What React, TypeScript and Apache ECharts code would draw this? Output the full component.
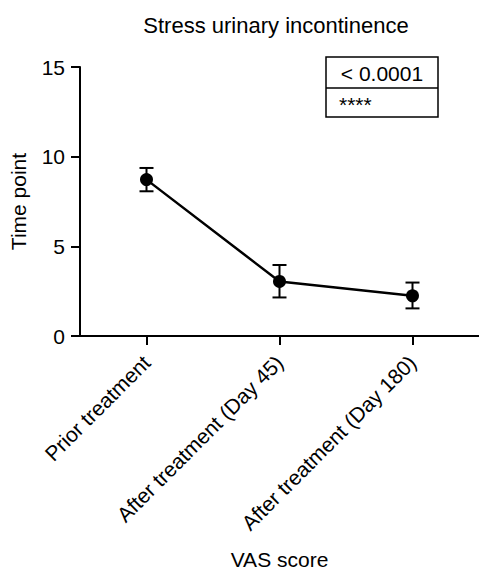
import React, { useEffect, useRef } from "react";
import * as echarts from "echarts";

const categories = ["Prior treatment", "After treatment (Day 45)", "After treatment (Day 180)"];
const meanValues = [8.72, 3.04, 2.24];
const lowerValues = [8.07, 2.15, 1.54];
const upperValues = [9.37, 3.96, 2.98];
const yTicks = [0, 5, 10, 15];
const pValueText = "< 0.0001";
const starsText = "****";

const FONT = "Liberation Sans, Arial, sans-serif";

export default function App() {
  const ref = useRef<HTMLDivElement>(null);
  useEffect(() => {
    if (!ref.current) return;
    const chart = echarts.init(ref.current, undefined, { renderer: "svg" });
    const errData = categories.map((_, i) => [i, lowerValues[i], upperValues[i]]);
    chart.setOption({
      animation: false,
      backgroundColor: "#ffffff",
      textStyle: { fontFamily: FONT },
      title: {
        text: "Stress urinary incontinence",
        left: 271,
        textAlign: "center",
        top: 9,
        textStyle: { fontFamily: FONT, fontSize: 22, fontWeight: "normal", color: "#000" },
      },
      grid: { left: 77, top: 67, width: 405, bottom: 235, containLabel: false },
      xAxis: {
        type: "category",
        data: categories,
        boundaryGap: true,
        name: "VAS score",
        nameLocation: "middle",
        nameGap: 213,
        nameTextStyle: { fontFamily: FONT, fontSize: 21, color: "#000" },
        axisLine: { lineStyle: { color: "#000", width: 2 } },
        axisTick: { show: true, alignWithLabel: true, length: 9, lineStyle: { color: "#000", width: 2 } },
        axisLabel: { rotate: 45, margin: 23, fontFamily: FONT, fontSize: 21, color: "#000", interval: 0 },
        splitLine: { show: false },
      },
      yAxis: {
        type: "value",
        min: yTicks[0],
        max: yTicks[yTicks.length - 1],
        interval: 5,
        name: "Time point",
        nameLocation: "middle",
        nameGap: 51,
        nameTextStyle: { fontFamily: FONT, fontSize: 21, color: "#000" },
        axisLine: { show: true, lineStyle: { color: "#000", width: 2 } },
        axisTick: { show: true, length: 9, lineStyle: { color: "#000", width: 2 } },
        axisLabel: { margin: 15, fontFamily: FONT, fontSize: 21, color: "#000" },
        splitLine: { show: false },
      },
      series: [
        {
          type: "custom",
          data: errData,
          z: 3,
          renderItem: (params: any, api: any) => {
            const x = api.value(0);
            const lo = api.coord([x, api.value(1)]);
            const hi = api.coord([x, api.value(2)]);
            const hw = 7;
            const style = { stroke: "#000", lineWidth: 2 };
            return {
              type: "group",
              children: [
                { type: "line", shape: { x1: lo[0], y1: lo[1], x2: hi[0], y2: hi[1] }, style },
                { type: "line", shape: { x1: lo[0] - hw, y1: lo[1], x2: lo[0] + hw, y2: lo[1] }, style },
                { type: "line", shape: { x1: hi[0] - hw, y1: hi[1], x2: hi[0] + hw, y2: hi[1] }, style },
              ],
            };
          },
        },
        {
          type: "line",
          data: meanValues,
          z: 4,
          symbol: "circle",
          symbolSize: 13,
          lineStyle: { color: "#000", width: 2.5 },
          itemStyle: { color: "#000" },
        },
      ],
      graphic: [
        {
          type: "rect",
          shape: { x: 326, y: 57, width: 112, height: 60 },
          style: { fill: "#fff", stroke: "#000", lineWidth: 1.5 },
          z: 10,
        },
        {
          type: "line",
          shape: { x1: 326, y1: 88, x2: 438, y2: 88 },
          style: { stroke: "#000", lineWidth: 1.5 },
          z: 11,
        },
        {
          type: "text",
          x: 382,
          y: 73,
          style: {
            text: pValueText,
            fill: "#000",
            font: `21px ${FONT}`,
            align: "center",
            verticalAlign: "middle",
          },
          z: 11,
        },
        {
          type: "text",
          x: 339,
          y: 104,
          style: {
            text: starsText,
            fill: "#000",
            font: `21px ${FONT}`,
            align: "left",
            verticalAlign: "middle",
          },
          z: 11,
        },
      ],
    });
    return () => chart.dispose();
  }, []);
  return (
    <div
      ref={ref}
      style={{ position: "fixed", left: 0, top: 0, width: 479, height: 571, overflow: "hidden" }}
    />
  );
}
